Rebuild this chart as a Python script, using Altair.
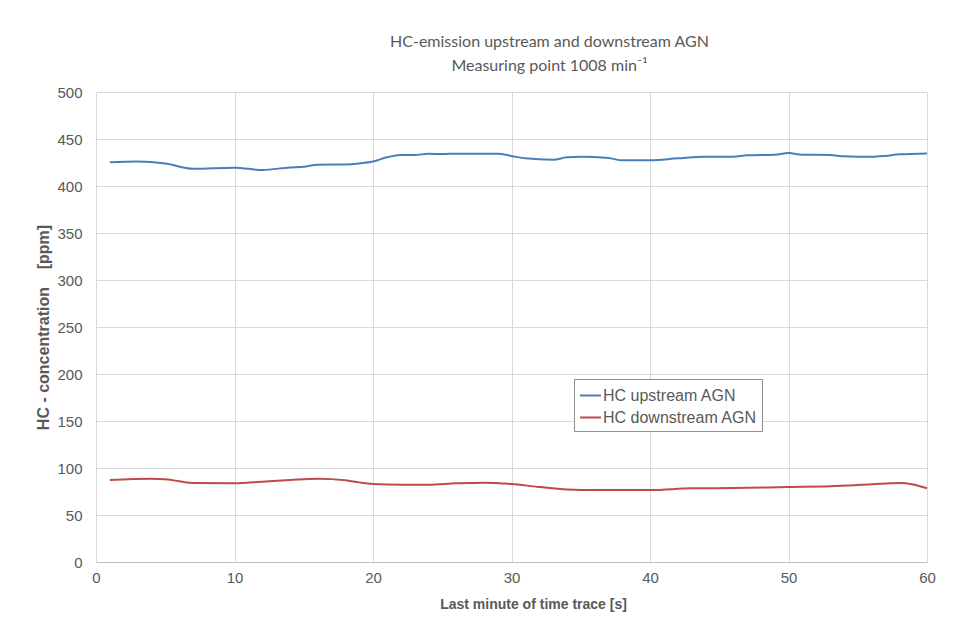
import altair as alt
import pandas as pd

# Upstream series (x in s, HC in ppm)
up_x = [1, 3, 5, 7, 10, 12, 14, 15, 16, 18, 19, 20, 21, 22, 23, 24, 25, 26, 29, 30,
        31, 33, 34, 35, 37, 38, 40, 42, 44, 46, 47, 49, 50, 51, 53, 54, 56, 57, 58, 60]
up_y = [425.2, 426, 424, 418.4, 419.5, 417, 419.8, 420.5, 422.7, 423, 424, 426, 430.5, 433, 433,
        434.3, 434, 434.4, 434.4, 432, 429.4, 428, 430.5, 431.2, 429.8, 427.3, 427.3, 429.4,
        431.2, 431, 432.6, 433.3, 435, 433.3, 433, 431.6, 431, 432, 433.7, 434.7]

# Downstream series
dn_x = [1, 4, 5, 7, 10, 12, 14, 16, 18, 19, 20, 22, 24, 26, 28, 30, 32, 35, 40, 43,
        46, 50, 53, 56, 58, 59, 60]
dn_y = [87.2, 88.6, 88, 84, 83.7, 85.5, 87.2, 88.6, 87, 84.7, 83, 82.3, 82.3, 83.7, 84.4,
        83, 79.8, 76.6, 76.6, 78.4, 78.7, 79.8, 80.5, 82.6, 84, 82.5, 78.4]

series_names = ["HC upstream AGN", "HC downstream AGN"]
series_colors = ["#4a7ebb", "#be4b48"]

x_ticks = [0, 10, 20, 30, 40, 50, 60]
y_ticks = [0, 50, 100, 150, 200, 250, 300, 350, 400, 450, 500]

df = pd.concat([
    pd.DataFrame({"t": up_x, "v": up_y, "s": series_names[0]}),
    pd.DataFrame({"t": dn_x, "v": dn_y, "s": series_names[1]}),
])

label_col = "#595959"

chart = alt.Chart(df).mark_line(strokeWidth=2, interpolate="monotone").encode(
    x=alt.X("t:Q",
            scale=alt.Scale(domain=[0, 60], nice=False, zero=True),
            axis=alt.Axis(values=x_ticks, title="Last minute of time trace [s]",
                          titleX=437, titlePadding=12, labelFlush=False)),
    y=alt.Y("v:Q",
            scale=alt.Scale(domain=[0, 500], nice=False),
            axis=alt.Axis(values=y_ticks,
                          title="HC - concentration\u00a0\u00a0\u00a0\u00a0[ppm]",
                          titleFontSize=16, titlePadding=5, labelPadding=14)),
    color=alt.Color("s:N",
                    scale=alt.Scale(domain=series_names, range=series_colors),
                    legend=alt.Legend(title=None, orient="none", legendX=478, legendY=287,
                                      symbolType="stroke", symbolSize=440, symbolStrokeWidth=2,
                                      labelFont="Liberation Sans", labelFontSize=16,
                                      labelColor=label_col, labelOffset=1, rowPadding=2,
                                      padding=5, strokeColor="#8c8c8c", fillColor="white",
                                      labelLimit=300)),
).properties(
    width=831,
    height=470,
    background="white",
    title=alt.TitleParams(
        text=["HC-emission upstream and downstream AGN", "Measuring point 1008 min\u207b\u00b9"],
        anchor="middle", dx=38, offset=11, font="Lato", fontSize=16, fontWeight="normal",
        color=label_col, lineHeight=24,
    ),
    autosize=alt.AutoSizeParams(type="none"),
    padding={"left": 96, "top": 92, "right": 32, "bottom": 59},
).configure_view(
    stroke=None
).configure_axis(
    labelFont="Liberation Sans", labelFontSize=15, labelColor=label_col,
    titleFont="Liberation Sans", titleFontSize=14, titleFontWeight="bold", titleColor=label_col,
    gridColor="#d9d9d9", gridWidth=1, ticks=False, domain=False, labelPadding=12,
).configure_axisX(
    domain=True, domainColor="#bfbfbf", labelPadding=8,
)

chart.save("out.html", embed_options={"renderer": "svg", "actions": False})
